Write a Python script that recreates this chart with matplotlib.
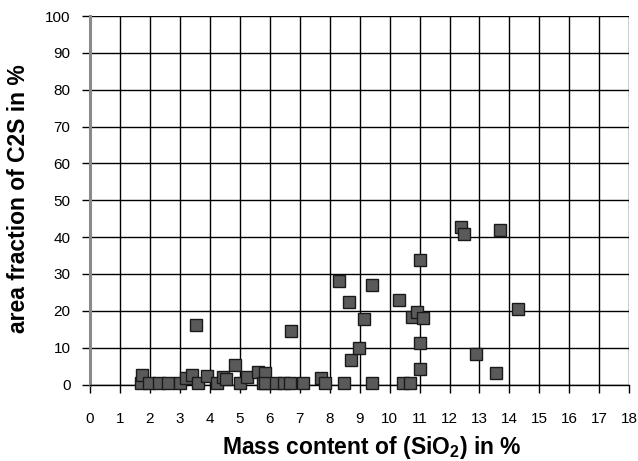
import matplotlib
matplotlib.use("Agg")
import matplotlib.pyplot as plt

plt.rcParams['font.family'] = ['Liberation Sans', 'DejaVu Sans']
plt.rcParams['mathtext.fontset'] = 'custom'
plt.rcParams['mathtext.rm'] = 'Liberation Sans'
plt.rcParams['mathtext.bf'] = 'Liberation Sans:bold'

# SiO2 mass content (%) vs. C2S area fraction (%)
sio2 = [1.69, 1.75, 1.98, 2.31, 2.6, 3.0, 3.2, 3.4, 3.54, 3.6, 3.9, 4.23, 4.45,
        4.53, 4.84, 5.0, 5.23, 5.62, 5.78, 5.85, 5.85, 6.2, 6.46, 6.68, 6.7, 7.1,
        7.72, 7.85, 8.31, 8.48, 8.63, 8.71, 8.97, 9.15, 9.41, 9.41, 10.32, 10.46,
        10.67, 10.74, 10.9, 11.0, 11.0, 11.03, 11.13, 12.38, 12.47, 12.9, 13.56,
        13.69, 14.3]
c2s = [0.5, 2.6, 0.3, 0.3, 0.3, 0.3, 1.8, 2.6, 16.2, 0.3, 2.4, 0.3, 2.0,
       1.5, 5.3, 0.3, 2.0, 3.5, 0.3, 3.2, 0.4, 0.3, 0.4, 0.4, 14.6, 0.4,
       1.7, 0.4, 28.1, 0.4, 22.5, 6.7, 9.8, 17.8, 26.9, 0.3, 22.8, 0.3,
       0.3, 18.4, 19.8, 33.8, 4.1, 11.2, 18.0, 42.7, 40.8, 8.2, 3.2,
       41.8, 20.6]

x_ticks = list(range(0, 19))
y_ticks = list(range(0, 101, 10))

fig = plt.figure(figsize=(6.38, 4.61), dpi=100)
ax = fig.add_axes([90 / 638, 1 - 384.5 / 461, (629.3 - 90) / 638, (384.5 - 16) / 461])

ax.plot(sio2, c2s, linestyle='none', marker='s', markersize=8.6,
        markerfacecolor='#5a5a5a', markeredgecolor='#1a1a1a', markeredgewidth=1.0,
        clip_on=False, zorder=3)

ax.set_xlim(0, 18)
ax.set_ylim(0, 100)
ax.set_xticks(x_ticks)
ax.set_yticks(y_ticks)
ax.grid(True, color='black', linewidth=1.0)
ax.set_axisbelow(True)

for side in ['top', 'right']:
    ax.spines[side].set_visible(False)
ax.spines['bottom'].set_color('black')
ax.spines['bottom'].set_linewidth(1.0)
ax.spines['left'].set_color('#8a8a8a')
ax.spines['left'].set_linewidth(2.2)

ax.tick_params(axis='x', direction='out', length=6, width=1.0, pad=14, labelsize=11)
ax.tick_params(axis='y', direction='out', length=6, width=1.0, pad=8, labelsize=11)

ax.set_xlabel(r'Mass content of (SiO$_{\mathbf{2}}$) in %', fontsize=16.5,
              fontweight='bold')
ax.xaxis.set_label_coords(0.522, -0.135)
ax.set_ylabel('area fraction of C2S in %', fontsize=16.5, fontweight='bold')
ax.yaxis.set_label_coords(-0.112, 0.505)

fig.savefig('out.png', dpi=100)
